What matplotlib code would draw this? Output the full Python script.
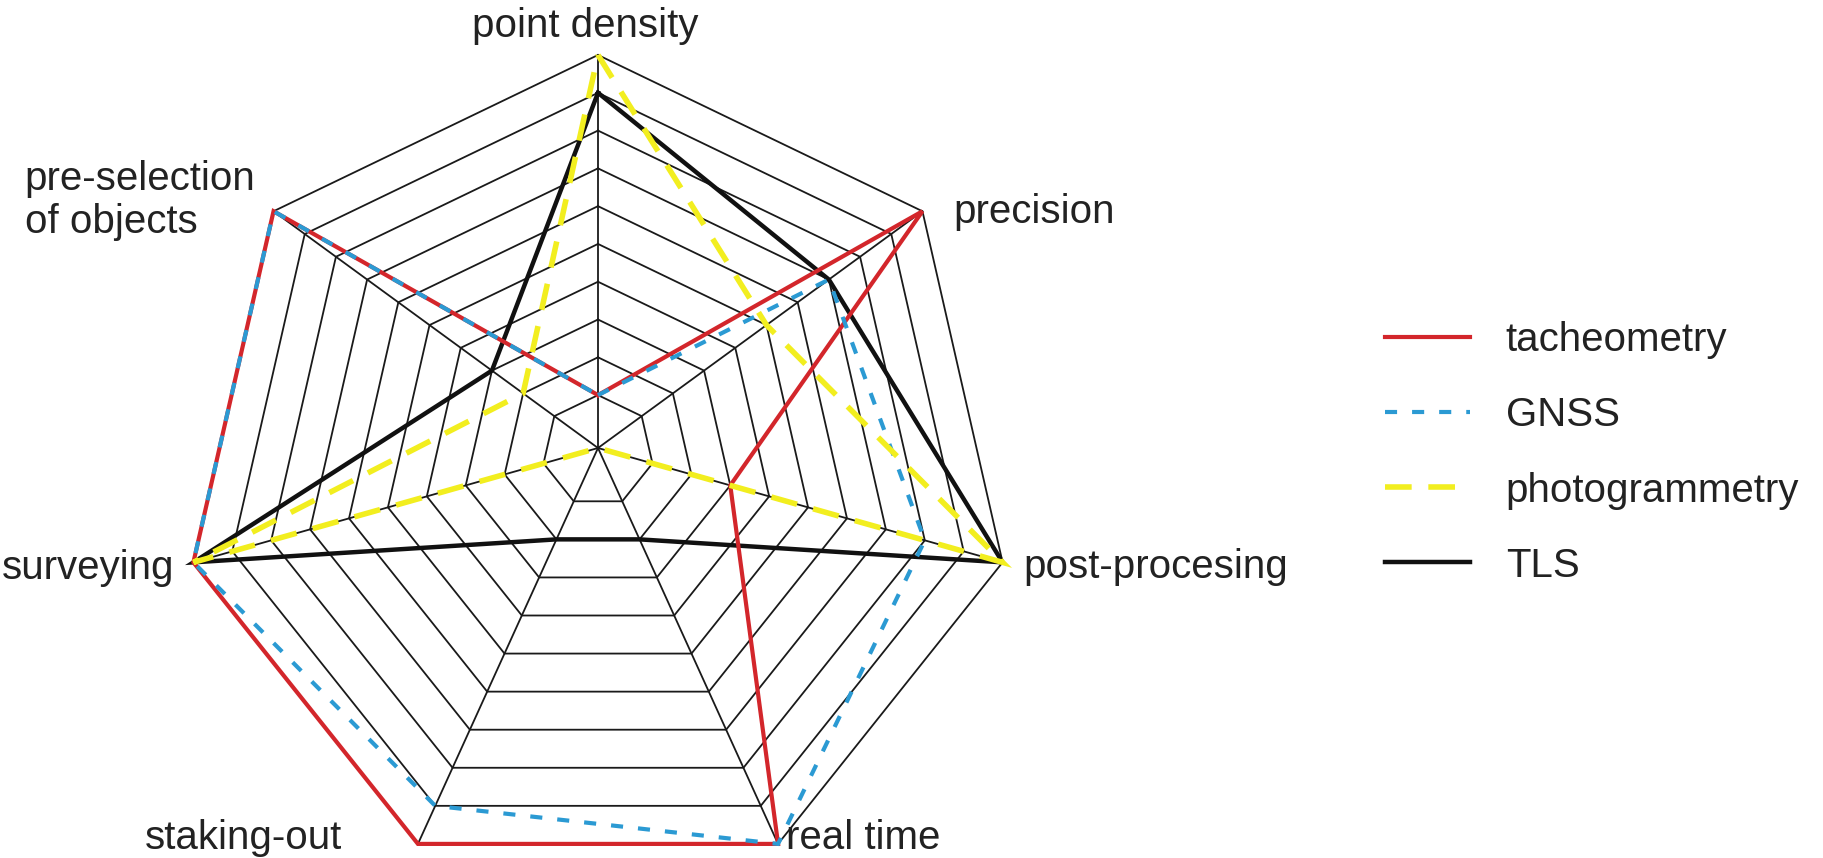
import numpy as np
import matplotlib.pyplot as plt
from matplotlib.lines import Line2D

plt.rcParams['font.family'] = ['Liberation Sans', 'DejaVu Sans']

# axes of the radar, clockwise from the top
categories = ['point density', 'precision', 'post-procesing', 'real time',
              'staking-out', 'surveying', 'pre-selection\nof objects']

# ratings on a 0-10 scale
tacheometry = [1, 10, 3, 10, 10, 10, 10]
gnss = [1, 7, 8, 10, 9, 10, 10]
photogrammetry = [10, 5, 10, 0, 0, 10, 2]
tls = [9, 7, 10, 2, 2, 10, 3]

series_names = ['tacheometry', 'GNSS', 'photogrammetry', 'TLS']

n = len(categories)
angles = np.deg2rad(90 - 360.0 / n * np.arange(n))
vx, vy = np.cos(angles), np.sin(angles)
hub = (0.0, 0.053)  # spokes meet a bit above the heptagon centre


def to_xy(vals):
    v = np.asarray(vals, dtype=float)
    f = np.where(v > 0, (v + 0.4) / 10.4, 0.0)
    x = hub[0] + f * (vx - hub[0])
    y = hub[1] + f * (vy - hub[1])
    return np.append(x, x[0]), np.append(y, y[0])


fig = plt.figure(figsize=(18.23, 8.58), dpi=100)
ax = fig.add_axes([0, 0, 1, 1])
ax.set_xlim(-598 / 415, (1823 - 598) / 415)
ax.set_ylim(-(858 - 470) / 415, 470 / 415)
ax.axis('off')

# grid: rings and spokes
for k in range(1, 11):
    gx, gy = to_xy([k] * n)
    ax.plot(gx, gy, color='#1a1a1a', lw=1.3, zorder=1)
for i in range(n):
    ax.plot([hub[0], vx[i]], [hub[1], vy[i]], color='#1a1a1a', lw=1.3, zorder=1)

styles = {
    'TLS': dict(color='#111111', lw=3.2, ls='-', zorder=3),
    'tacheometry': dict(color='#d3262b', lw=3.0, ls='-', zorder=4),
    'GNSS': dict(color='#2b9ad3', lw=3.0, ls=(0, (2.9, 3.6)), zorder=5),
    'photogrammetry': dict(color='#f2ee1f', lw=4.0, ls=(0, (4.8, 3.0)), zorder=6),
}
data = {'tacheometry': tacheometry, 'GNSS': gnss,
        'photogrammetry': photogrammetry, 'TLS': tls}

for name in ['TLS', 'tacheometry', 'GNSS', 'photogrammetry']:
    x, y = to_xy(data[name])
    ax.plot(x, y, solid_joinstyle='miter', dash_joinstyle='miter',
            dash_capstyle='butt', **styles[name])

# axis labels
label_pos = [
    (-13, 29, 'center', 'center'),
    (31, -1, 'left', 'center'),
    (21, -5, 'left', 'center'),
    (8, 6, 'left', 'center'),
    (-76, 6, 'right', 'center'),
    (-19, -6, 'right', 'center'),
    (-249, 11, 'left', 'center'),
]
for i, (lab, (dx, dy, ha, va)) in enumerate(zip(categories, label_pos)):
    ax.annotate(lab, (vx[i], vy[i]), xytext=(dx, dy), textcoords='offset pixels',
                ha=ha, va=va, fontsize=29, color='#222222', linespacing=1.15)

handles = [Line2D([], [], color=styles[s]['color'], lw=styles[s]['lw'],
                  ls=styles[s]['ls'], dash_capstyle='butt') for s in series_names]
ax.legend(handles, series_names, loc='center left',
          bbox_to_anchor=(1385 / 1823, 1 - 453 / 858), frameon=False,
          fontsize=29, handlelength=2.1, handletextpad=0.9,
          labelspacing=0.92, borderpad=0, borderaxespad=0,
          labelcolor='#222222')

fig.savefig('out.png', dpi=100, facecolor='white')
